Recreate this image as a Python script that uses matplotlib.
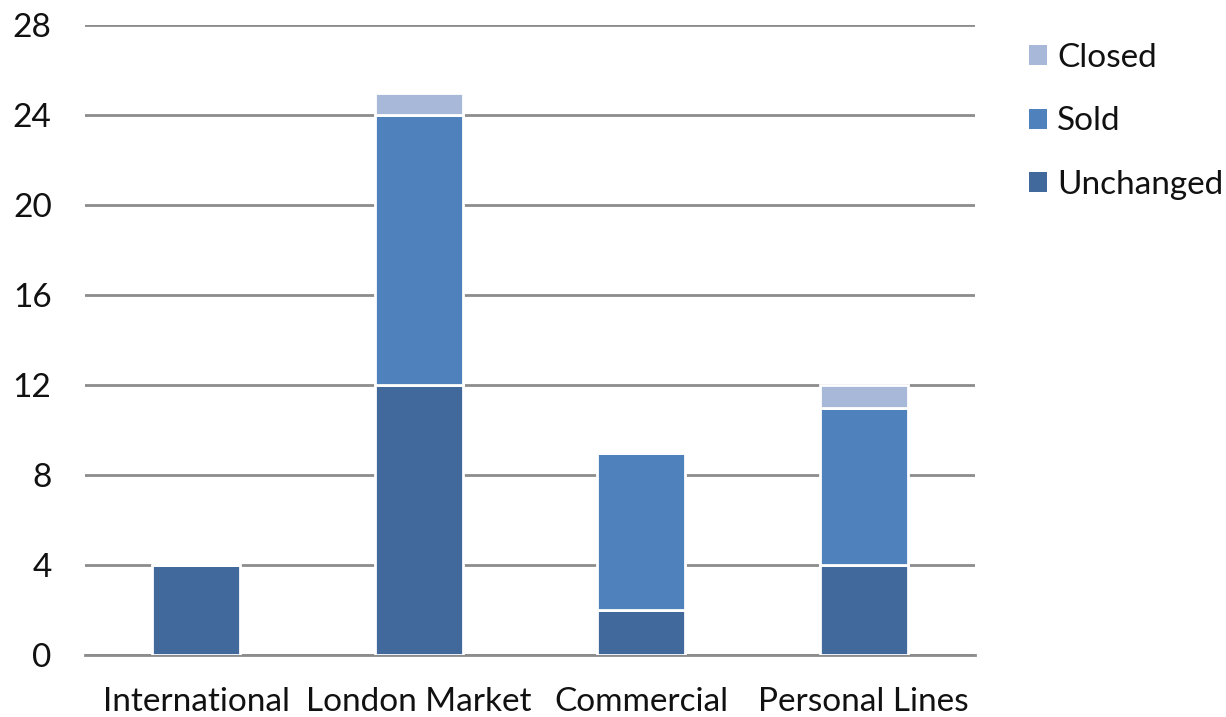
import matplotlib
matplotlib.use("Agg")
import matplotlib.pyplot as plt
from matplotlib.patches import Patch

categories = ["International", "London Market", "Commercial", "Personal Lines"]
unchanged = [4, 12, 2, 4]
sold = [0, 12, 7, 7]
closed = [0, 1, 0, 1]
yticks = [0, 4, 8, 12, 16, 20, 24, 28]

c_unch = "#41699C"
c_sold = "#4F81BD"
c_closed = "#A7B8D8"

plt.rcParams["font.family"] = ["Lato", "DejaVu Sans"]
FS = 24

fig = plt.figure(figsize=(12.26, 7.17), dpi=100)
ax = fig.add_axes([85 / 1226, 1 - 655 / 717, 890 / 1226, 630 / 717])

x = list(range(len(categories)))
w = 0.395
base2 = unchanged
base3 = [u + s for u, s in zip(unchanged, sold)]
kw = dict(width=w, edgecolor="white", linewidth=2, zorder=3)
ax.bar(x, unchanged, color=c_unch, **kw)
ax.bar(x, sold, bottom=base2, color=c_sold, **kw)
ax.bar(x, closed, bottom=base3, color=c_closed, **kw)

ax.set_xlim(-0.5, 3.5)
ax.set_ylim(0, 28)
ax.set_yticks(yticks)
ax.set_yticklabels([str(t) for t in yticks])
ax.set_xticks(x)
ax.set_xticklabels(categories)
ax.yaxis.grid(True, color="#8C8C8C", linewidth=2, zorder=0)
ax.set_axisbelow(True)
for s in ax.spines.values():
    s.set_visible(False)
ax.tick_params(axis="both", length=0, labelsize=FS, labelcolor="#111111")
ax.tick_params(axis="x", pad=23)
ax.tick_params(axis="y", pad=24)
ax.axhline(0, color="#8C8C8C", linewidth=2, zorder=1, clip_on=False)

handles = [Patch(facecolor=c_closed), Patch(facecolor=c_sold), Patch(facecolor=c_unch)]
fig.legend(handles, ["Closed", "Sold", "Unchanged"], loc="upper left",
           bbox_to_anchor=(1029 / 1226, 1 - 43 / 717), frameon=False,
           fontsize=FS, handlelength=0.55, handleheight=0.55, handletextpad=0.3,
           labelspacing=1.0, borderaxespad=0, borderpad=0,
           labelcolor="#111111")

fig.savefig("out.png", dpi=100)
